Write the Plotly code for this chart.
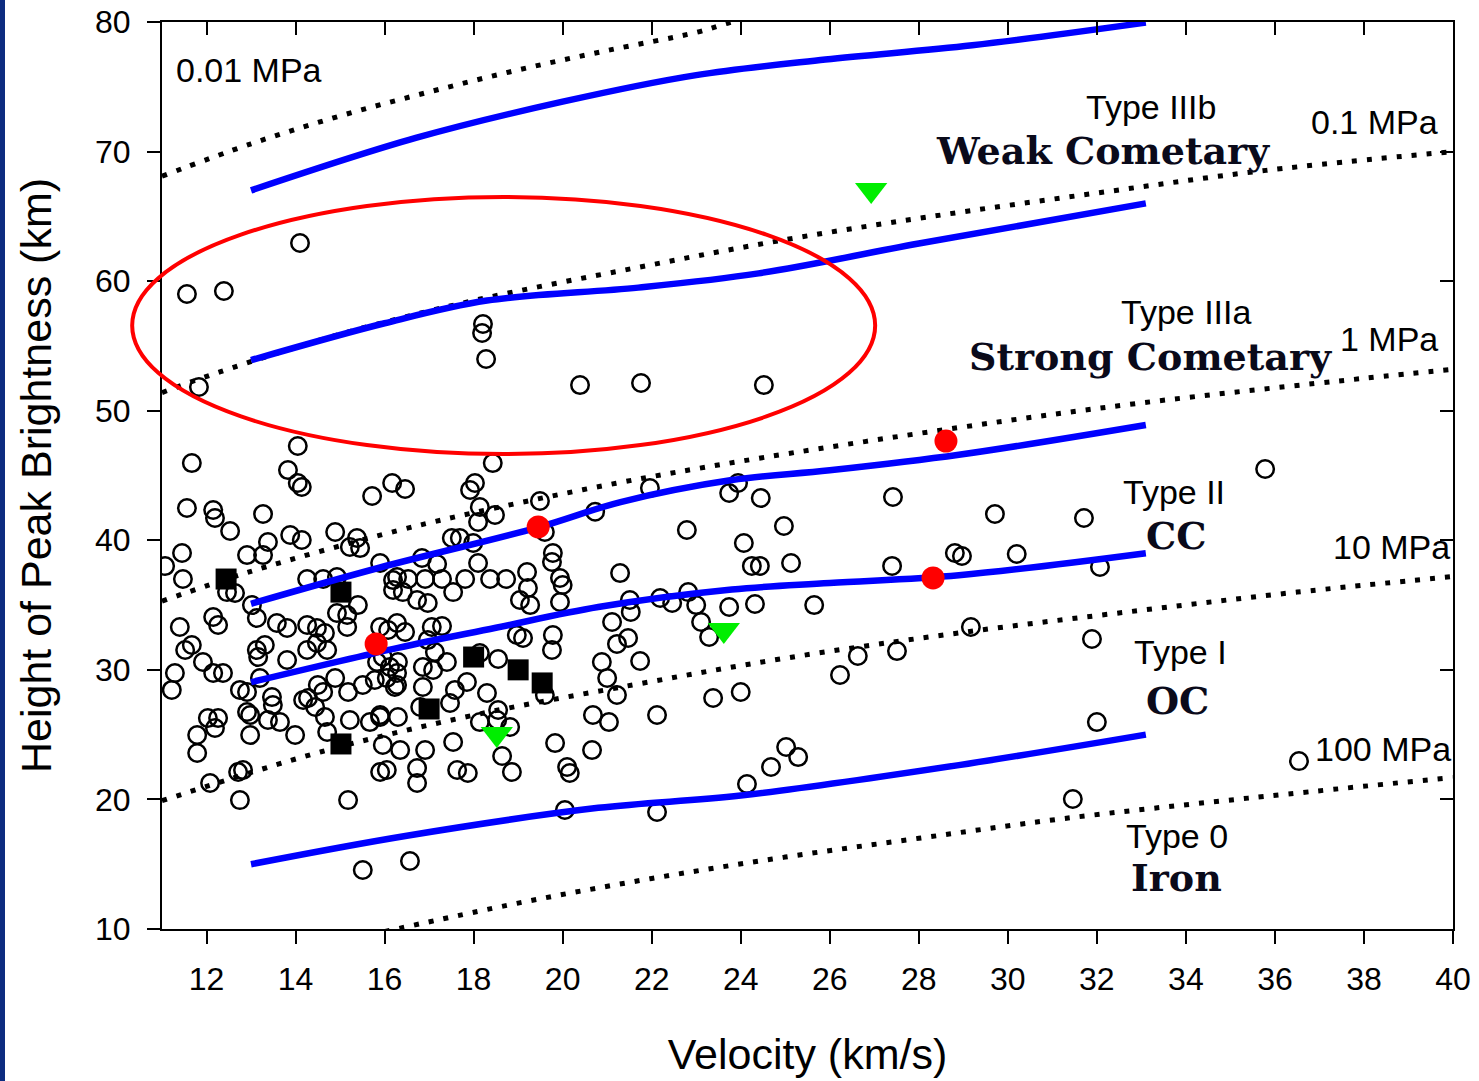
import plotly.graph_objects as go

# ---------------- data ----------------
X_RANGE = [11, 40]
Y_RANGE = [10, 80]
x_ticks = list(range(12, 41, 2))
y_ticks = list(range(10, 81, 10))

# constant dynamic-pressure isolines (dotted)
p001_x = [11, 13, 15, 17, 19, 21, 23, 23.7, 24.5]
p001_y = [68.1, 70.6, 72.75, 74.6, 76.3, 77.8, 79.2, 79.9, 80.6]
p01_x = [11, 12.3, 15, 18, 21.6, 25, 28.2, 32, 35.8, 40]
p01_y = [51.4, 53.0, 55.9, 58.5, 61.0, 63.2, 64.95, 66.8, 68.55, 70.0]
p1_x = [11, 13, 16.3, 18.5, 21.2, 24, 28.9, 33, 38, 40]
p1_y = [35.3, 37.6, 40.75, 42.5, 44.4, 46.1, 48.7, 50.6, 52.5, 53.2]
p10_x = [11, 14.6, 18, 21.6, 25, 28.9, 33, 36.5, 40]
p10_y = [19.9, 23.7, 26.5, 28.85, 30.9, 32.85, 34.6, 36.0, 37.2]
p100_x = [16.0, 19, 22, 25, 28, 31.2, 35.4, 40]
p100_y = [9.8, 12.0, 13.9, 15.55, 17.0, 18.5, 20.1, 21.7]

# model boundaries (solid blue)
t0_x = [13, 16.5, 20.8, 24, 28.9, 33.1]
t0_y = [15.0, 17.2, 19.35, 20.3, 22.65, 25.0]
t1_x = [13, 16.3, 18.5, 20.8, 23.8, 26, 28.9, 33.1]
t1_y = [29.05, 31.7, 33.25, 34.85, 36.2, 36.7, 37.3, 39.0]
t2_x = [13, 15.9, 19.45, 21.3, 23.8, 26, 28.9, 33.1]
t2_y = [35.1, 37.9, 41.0, 42.95, 44.65, 45.4, 46.6, 48.9]
t3a_x = [13, 16, 18.3, 21.7, 24.4, 28, 33.1]
t3a_y = [53.9, 56.75, 58.5, 59.5, 60.6, 62.9, 66.0]
t3b_x = [13.0, 16.7, 20.0, 23.0, 25.9, 29.2, 33.1]
t3b_y = [67.0, 71.05, 73.85, 75.9, 77.1, 78.2, 79.95]

# observed meteors (open circles)
obs = [
    (14.10, 62.94), (11.56, 59.01), (12.39, 59.24), (11.83, 51.83), (18.21, 56.69),
    (18.19, 56.0), (18.28, 53.99), (20.39, 51.98), (21.76, 52.14), (24.52, 51.98),
    (35.78, 45.5), (31.71, 41.72), (32.07, 37.94), (31.89, 32.38), (32.0, 25.97),
    (31.46, 20.03), (36.54, 22.96), (29.71, 42.03), (30.2, 38.94), (28.81, 39.02),
    (28.97, 38.79), (29.17, 33.31), (27.42, 43.34), (27.40, 38.02), (27.51, 31.45),
    (26.63, 31.07), (26.23, 29.6), (25.13, 38.25), (24.97, 41.1),
    (24.07, 39.79), (24.25, 38.02), (24.43, 38.02), (22.79, 40.79), (21.29, 37.47),
    (21.96, 44.03), (23.74, 43.65), (23.94, 44.42), (24.45, 43.26), (21.51, 35.39),
    (21.53, 34.47), (22.19, 35.55), (22.46, 35.16), (22.82, 36.0), (23.0, 35.0),
    (23.74, 34.85), (24.32, 35.08), (25.65, 35.0), (23.11, 33.69), (23.29, 32.54),
    (21.11, 33.69), (21.22, 32.0), (21.47, 32.46), (21.74, 30.68), (20.88, 30.61),
    (21.0, 29.37), (21.22, 28.06), (21.04, 25.97), (22.12, 26.52), (23.38, 27.83),
    (24.0, 28.29), (25.02, 24.05), (25.29, 23.27), (24.68, 22.5), (24.14, 21.19),
    (22.12, 19.03), (20.73, 42.2),
    (18.43, 45.96), (16.17, 44.42), (16.46, 43.96), (18.03, 44.42), (17.92, 43.88),
    (19.49, 43.03), (18.14, 42.57), (18.48, 41.95), (18.10, 41.41), (17.51, 40.18),
    (17.69, 40.18), (17.99, 39.79), (16.84, 38.63), (17.18, 38.17), (15.9, 38.25),
    (18.10, 38.25), (19.78, 39.02), (19.76, 38.32), (16.19, 36.93), (16.53, 37.01),
    (16.91, 37.01), (17.29, 37.01), (17.81, 37.01), (18.37, 37.01), (18.73, 37.01),
    (19.2, 37.55), (19.22, 36.32), (19.94, 37.09), (20.0, 36.55), (16.41, 36.0),
    (17.54, 36.0), (16.73, 35.39), (16.97, 35.16), (19.04, 35.39), (19.27, 35.0),
    (19.94, 35.24), (16.08, 33.08), (16.46, 32.92), (17.06, 33.31), (17.29, 33.38),
    (18.97, 32.69), (19.78, 32.69), (19.6, 40.64),
    (19.11, 32.46), (19.76, 31.53), (16.97, 32.3), (17.13, 31.38), (16.3, 30.61),
    (16.86, 30.22), (17.09, 29.99), (17.4, 30.61), (18.55, 30.84), (18.14, 31.3),
    (16.05, 29.37), (16.28, 29.76), (16.23, 28.68), (16.86, 28.68), (17.85, 29.06),
    (17.58, 28.45), (18.3, 28.21), (19.6, 28.06), (17.47, 27.44), (18.55, 26.9),
    (16.8, 27.13), (15.9, 26.36), (16.3, 26.36), (18.14, 25.97), (18.82, 25.59),
    (18.53, 26.13), (20.68, 26.52), (15.96, 24.2), (16.35, 23.81), (16.91, 23.81),
    (17.54, 24.43), (18.64, 23.35), (19.83, 24.35), (20.66, 23.81), (16.05, 22.27),
    (16.73, 22.42), (17.63, 22.27), (17.87, 22.04), (18.86, 22.12), (20.1, 22.5),
    (20.16, 22.04), (16.73, 21.27), (20.05, 19.18),
    (14.05, 47.28), (11.67, 45.96), (13.83, 45.42), (14.14, 44.11), (14.05, 44.42),
    (11.56, 42.49), (12.15, 42.34), (12.19, 41.72), (12.53, 40.72), (13.27, 42.03),
    (15.72, 43.42), (13.38, 39.87), (13.88, 40.41), (14.14, 40.02), (14.89, 40.64),
    (15.38, 40.18), (15.45, 39.4), (12.91, 38.86), (13.27, 38.86), (11.45, 39.02),
    (11.07, 38.01), (11.47, 37.01), (12.46, 36.0), (12.64, 35.93), (14.62, 37.01),
    (14.26, 37.01), (14.93, 37.16), (15.22, 39.48), (16.28, 37.16), (16.19, 36.16),
    (13.02, 35.0), (13.13, 34.0), (12.15, 34.08), (12.26, 33.46), (11.40, 33.31),
    (13.58, 33.62), (13.81, 33.23), (14.93, 34.39), (15.16, 34.23), (15.40, 35.0),
    (14.26, 33.46), (14.48, 33.23), (14.66, 32.84), (15.9, 33.31), (16.28, 33.62),
    (15.16, 33.31), (11.52, 31.53), (11.67, 31.92), (11.92, 30.61), (12.15, 29.76),
    (12.37, 29.76), (11.29, 29.76), (11.22, 28.45), (13.13, 31.53), (13.31, 31.92),
    (13.16, 30.99), (13.81, 30.76), (14.26, 31.53), (14.48, 32.07), (14.71, 31.53),
    (13.2, 29.37), (12.75, 28.45), (12.91, 28.29), (13.47, 27.9), (13.49, 27.29),
    (12.91, 26.75), (12.98, 26.52), (13.38, 26.13), (13.65, 25.97), (14.28, 27.83),
    (14.5, 28.83), (14.62, 28.29), (14.89, 29.37), (15.18, 28.29), (14.17, 27.67),
    (14.44, 27.13), (14.66, 26.36), (15.22, 26.13), (15.9, 26.52), (15.67, 25.97),
    (15.51, 28.83), (15.78, 29.22), (15.83, 30.61), (16.12, 30.22), (16.28, 28.83),
    (15.96, 30.99), (12.03, 26.28), (12.26, 26.28), (12.19, 25.51), (11.79, 24.97),
    (11.79, 23.58), (12.98, 24.97), (13.99, 24.97), (12.71, 22.12), (12.82, 22.27),
    (12.08, 21.27), (12.75, 19.95), (15.18, 19.95), (15.9, 22.12), (15.51, 14.55),
    (14.71, 25.2), (16.57, 15.25),
]
obs_x = [p[0] for p in obs]
obs_y = [p[1] for p in obs]

# special events
red_x = [15.81, 19.45, 28.32, 28.61]
red_y = [32.0, 41.03, 37.09, 47.66]
sq_x = [12.44, 15.02, 18.0, 19.0, 19.54, 17.0, 15.02]
sq_y = [37.01, 36.0, 30.99, 30.0, 28.99, 26.98, 24.28]
tri_x = [26.93, 23.62, 18.52]
tri_y = [67.03, 33.08, 25.05]

# highlighted region (ellipse extent)
ell_x = [10.33, 27.02]
ell_y = [46.65, 66.5]

# text labels
mpa_labels = [("0.01 MPa", 11.27, 76.3, "left"), ("0.1 MPa", 39.71, 72.3, "right"),
              ("1 MPa", 39.71, 55.5, "right"), ("10 MPa", 39.97, 39.5, "right"),
              ("100 MPa", 40.0, 23.9, "right")]
type_labels = [("Type IIIb", 33.21, 73.45), ("Type IIIa", 34.0, 57.65), ("Type II", 33.73, 43.75),
               ("Type I", 33.87, 31.4), ("Type 0", 33.8, 17.2)]
class_labels = [("Weak Cometary", 32.14, 70.1), ("Strong Cometary", 33.21, 54.15),
                ("CC", 33.78, 40.4), ("OC", 33.82, 27.65), ("Iron", 33.8, 14.0)]

# ---------------- figure ----------------
SANS = "Liberation Sans, Arial, sans-serif"
SERIF = "DejaVu Serif, serif"
fig = go.Figure()

for xs, ys in [(p001_x, p001_y), (p01_x, p01_y), (p1_x, p1_y), (p10_x, p10_y), (p100_x, p100_y)]:
    fig.add_trace(go.Scatter(x=xs, y=ys, mode="lines", line=dict(color="black", width=5, dash="5px,10px", shape="spline"),
                             showlegend=False, hoverinfo="skip"))

fig.add_trace(go.Scatter(x=obs_x, y=obs_y, mode="markers",
                         marker=dict(symbol="circle-open", size=17.5, color="black", line=dict(width=2.5, color="black")),
                         showlegend=False))
fig.add_trace(go.Scatter(x=sq_x, y=sq_y, mode="markers",
                         marker=dict(symbol="square", size=21, color="black", line=dict(width=0)), showlegend=False))

for xs, ys in [(t0_x, t0_y), (t1_x, t1_y), (t2_x, t2_y), (t3a_x, t3a_y), (t3b_x, t3b_y)]:
    fig.add_trace(go.Scatter(x=xs, y=ys, mode="lines", line=dict(color="#0000ff", width=6.5, shape="spline"),
                             showlegend=False, hoverinfo="skip"))

fig.add_trace(go.Scatter(x=red_x, y=red_y, mode="markers",
                         marker=dict(symbol="circle", size=23, color="#ff0000", line=dict(width=0)), showlegend=False))
fig.add_trace(go.Scatter(x=tri_x, y=tri_y, mode="markers",
                         marker=dict(symbol="triangle-down", size=28, color="#00ee00", line=dict(width=0)), showlegend=False))

# helper trace for the mirrored (top / right) axes
fig.add_trace(go.Scatter(x=[None], y=[None], xaxis="x2", yaxis="y2", showlegend=False, hoverinfo="skip"))

def fx(v):
    return (v - X_RANGE[0]) / (X_RANGE[1] - X_RANGE[0])

def fy(v):
    return (v - Y_RANGE[0]) / (Y_RANGE[1] - Y_RANGE[0])

shapes = [
    dict(type="circle", xref="x domain", yref="y domain", x0=fx(ell_x[0]), x1=fx(ell_x[1]),
         y0=fy(ell_y[0]), y1=fy(ell_y[1]), line=dict(color="#ff0000", width=4), layer="above"),
    dict(type="rect", xref="paper", yref="paper", x0=-162 / 1291, x1=-157 / 1291, y0=-152 / 907, y1=1 + 22 / 907,
         fillcolor="#0d2c80", line=dict(width=0), layer="above"),
]

annotations = []
for t, x, y, anc in mpa_labels:
    annotations.append(dict(text=t, x=x, y=y, xref="x", yref="y", xanchor=anc, yanchor="middle", showarrow=False,
                            font=dict(family=SANS, size=34, color="#000")))
for t, x, y in type_labels:
    annotations.append(dict(text=t, x=x, y=y, xref="x", yref="y", xanchor="center", yanchor="middle", showarrow=False,
                            font=dict(family=SANS, size=34, color="#000")))
for t, x, y in class_labels:
    annotations.append(dict(text="<b>" + t + "</b>", x=x, y=y, xref="x", yref="y", xanchor="center", yanchor="middle",
                            showarrow=False, font=dict(family=SERIF, size=38, color="#0a0a1a")))

axis_common = dict(showgrid=False, zeroline=False, showline=True, linecolor="black", linewidth=2,
                   tickcolor="black", tickwidth=2, ticklen=13)

fig.update_layout(
    width=1479, height=1081,
    margin=dict(l=162, r=26, t=22, b=152, autoexpand=False),
    paper_bgcolor="white", plot_bgcolor="white",
    xaxis=dict(range=X_RANGE, tickvals=x_ticks, ticks="outside", tickfont=dict(family=SANS, size=32, color="black"),
               title=dict(text="Velocity (km/s)", font=dict(family=SANS, size=43, color="black"), standoff=42),
               ticklabelstandoff=8, **axis_common),
    yaxis=dict(range=Y_RANGE, tickvals=y_ticks, ticks="outside", tickfont=dict(family=SANS, size=32, color="black"),
               title=dict(text="Height of Peak Brightness (km)", font=dict(family=SANS, size=43, color="black"), standoff=30),
               ticklabelstandoff=10, **axis_common),
    xaxis2=dict(range=X_RANGE, tickvals=x_ticks, ticks="inside", showticklabels=False, overlaying="x", side="top",
                anchor="y", **axis_common),
    yaxis2=dict(range=Y_RANGE, tickvals=y_ticks, ticks="inside", showticklabels=False, overlaying="y", side="right",
                anchor="x", **axis_common),
    shapes=shapes, annotations=annotations, showlegend=False,
)

fig.write_html("out.html")
